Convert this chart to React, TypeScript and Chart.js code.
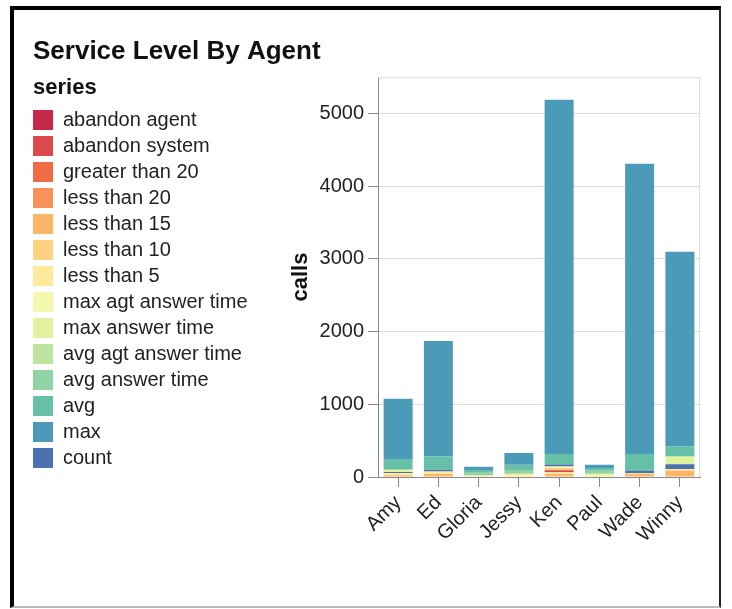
import React, { useEffect, useRef } from 'react';
import { Chart, registerables } from 'chart.js';

Chart.register(...registerables);

const FONT = "'Liberation Sans', Arial, Helvetica, sans-serif";

const agents = ['Amy', 'Ed', 'Gloria', 'Jessy', 'Ken', 'Paul', 'Wade', 'Winny'];

const seriesNames = [
  'abandon agent', 'abandon system', 'greater than 20', 'less than 20', 'less than 15',
  'less than 10', 'less than 5', 'max agt answer time', 'max answer time',
  'avg agt answer time', 'avg answer time', 'avg', 'max', 'count',
];

const seriesColors = [
  '#c5284b', '#dc494c', '#f06c45', '#f8915a', '#fdb567', '#fed27f', '#feea9b',
  '#f5f9b0', '#e2f3a0', '#bee5a0', '#91d3a5', '#66bfa7', '#4b9ab7', '#4a71b0',
];

// position of each series in the stack (0 = bottom)
const stackPosition = [11, 2, 12, 13, 0, 3, 1, 4, 6, 7, 8, 9, 10, 5];

// values per agent: Amy, Ed, Gloria, Jessy, Ken, Paul, Wade, Winny
const abandonAgent = [0, 0, 0, 0, 0, 0, 0, 0];
const abandonSystem = [0, 0, 0, 0, 27, 0, 0, 0];
const greaterThan20 = [0, 0, 0, 0, 0, 0, 0, 0];
const lessThan20 = [0, 0, 0, 0, 0, 0, 0, 0];
const lessThan15 = [25, 40, 0, 0, 40, 0, 40, 90];
const lessThan10 = [0, 0, 0, 0, 32, 0, 0, 0];
const lessThan5 = [30, 35, 20, 25, 27, 20, 10, 20];
const maxAgtAnswerTime = [0, 0, 0, 0, 18, 0, 0, 0];
const maxAnswerTime = [30, 0, 0, 20, 0, 25, 0, 95];
const avgAgtAnswerTime = [0, 0, 0, 0, 0, 0, 0, 20];
const avgAnswerTime = [0, 0, 40, 50, 0, 40, 0, 0];
const avg = [137, 183, 35, 75, 146, 40, 230, 130];
const max = [838, 1587, 45, 160, 4873, 45, 3995, 2680];
const count = [15, 25, 0, 0, 27, 0, 35, 65];

const seriesValues = [
  abandonAgent, abandonSystem, greaterThan20, lessThan20, lessThan15, lessThan10,
  lessThan5, maxAgtAnswerTime, maxAnswerTime, avgAgtAnswerTime, avgAnswerTime, avg, max, count,
];

const yMax = 5500;
const yTicks = [0, 1000, 2000, 3000, 4000, 5000];

const decorPlugin = {
  id: 'decor',
  beforeDatasetsDraw(chart: any) {
    const { ctx, chartArea: a } = chart;
    ctx.save();
    ctx.strokeStyle = '#dddddd';
    ctx.lineWidth = 1;
    ctx.beginPath();
    ctx.moveTo(a.left, a.top + 0.5);
    ctx.lineTo(a.right - 0.5, a.top + 0.5);
    ctx.lineTo(a.right - 0.5, a.bottom);
    ctx.stroke();
    ctx.restore();
  },
  afterDraw(chart: any) {
    const { ctx, chartArea: a } = chart;
    ctx.save();
    ctx.translate(a.left - 77, (a.top + a.bottom) / 2);
    ctx.rotate(-Math.PI / 2);
    ctx.textAlign = 'center';
    ctx.textBaseline = 'middle';
    ctx.fillStyle = '#111';
    ctx.font = `bold 22px ${FONT}`;
    ctx.fillText('calls', 0, 0);
    ctx.restore();
  },
};

export default function App() {
  const ref = useRef<HTMLCanvasElement | null>(null);

  useEffect(() => {
    if (!ref.current) return;
    const chart = new Chart(ref.current, {
      type: 'bar',
      data: {
        labels: agents,
        datasets: seriesNames.map((name, i) => ({
          label: name,
          data: seriesValues[i],
          backgroundColor: seriesColors[i],
          borderWidth: 0,
          order: stackPosition[i],
          stack: 'agents',
          barPercentage: 0.72,
          categoryPercentage: 1,
        })),
      },
      options: {
        responsive: false,
        animation: false,
        devicePixelRatio: 1,
        layout: { padding: { left: 33, right: 32, top: 0, bottom: 0 } },
        plugins: {
          title: {
            display: true,
            text: 'Service Level By Agent',
            align: 'start',
            color: '#111',
            font: { family: FONT, size: 26, weight: 'bold' },
            padding: { top: 36, bottom: 10 },
          },
          legend: {
            position: 'left',
            align: 'start',
            fullSize: true,
            maxWidth: 260,
            onClick: () => {},
            title: {
              display: true,
              text: 'series',
              position: 'start',
              color: '#111',
              font: { family: FONT, size: 22, weight: 'bold' },
              padding: { top: 77, bottom: 6.6 },
            },
            labels: {
              boxWidth: 20,
              boxHeight: 20,
              padding: 0,
              color: '#222',
              font: { family: FONT, size: 20, lineHeight: '26px' },
              generateLabels: (c: any) =>
                (Chart.defaults.plugins.legend.labels.generateLabels as any)(c)
                  .sort((p: any, q: any) => p.datasetIndex - q.datasetIndex)
                  .map((it: any) => ({ ...it, text: [it.text], lineWidth: 0 })),
            },
          },
          tooltip: { enabled: false },
        },
        scales: {
          x: {
            stacked: true,
            offset: true,
            grid: {
              display: true,
              drawOnChartArea: false,
              offset: false,
              color: '#888',
              tickColor: '#888',
              tickLength: 10,
            },
            border: { color: '#888' },
            ticks: {
              font: { family: FONT, size: 20 },
              color: '#222',
              padding: 4,
              minRotation: 45,
              maxRotation: 45,
              autoSkip: false,
            },
            afterFit: (s: any) => {
              s.height = 132;
            },
          },
          y: {
            stacked: true,
            min: 0,
            max: yMax,
            border: { color: '#888' },
            grid: {
              color: (c: any) => (c.tick && c.tick.value === 0 ? 'rgba(0,0,0,0)' : '#dddddd'),
              tickColor: '#888',
              tickLength: 10,
            },
            ticks: {
              font: { family: FONT, size: 20 },
              color: '#222',
              padding: 4,
              callback: (v: any) => String(v),
            },
            afterBuildTicks: (s: any) => {
              s.ticks = yTicks.map((v) => ({ value: v }));
            },
            afterFit: (s: any) => {
              const lw = s.chart.legend ? s.chart.legend.width : 0;
              s.width = 378 - 33 - lw;
            },
          },
        },
      },
      plugins: [decorPlugin],
    } as any);
    return () => chart.destroy();
  }, []);

  return (
    <div style={{ position: 'fixed', left: 0, top: 0, width: 732, height: 609, background: '#fff' }}>
      <div
        style={{
          position: 'absolute',
          left: 10,
          top: 6,
          width: 711,
          height: 602,
          boxSizing: 'border-box',
          borderTop: '4px solid #000',
          borderLeft: '4px solid #000',
          borderRight: '2px solid #222',
          borderBottom: '2px solid #bbb',
        }}
      />
      <canvas ref={ref} width={732} height={609} style={{ position: 'absolute', left: 0, top: 0 }} />
    </div>
  );
}
